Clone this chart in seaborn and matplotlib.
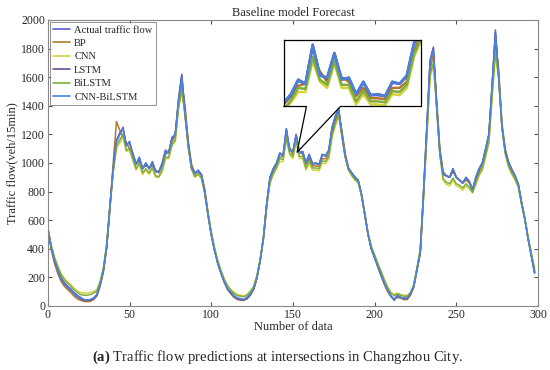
import numpy as np
import pandas as pd
import matplotlib
matplotlib.use("Agg")
import matplotlib.pyplot as plt
import seaborn as sns

# Werte (jeder zweite Datenpunkt)
x_idx = list(range(0, 300, 2))

actual = [545, 420, 330, 260, 200, 165, 140, 120, 95, 75,
          60, 45, 42, 45, 55, 80, 150, 250, 420, 700,
          960, 1150, 1200, 1250, 1120, 1150, 1060, 990, 1040, 960,
          1000, 960, 1010, 940, 940, 1000, 1090, 1070, 1180, 1200,
          1450, 1620, 1330, 1120, 960, 920, 950, 920, 800, 640,
          500, 390, 300, 230, 170, 120, 95, 70, 55, 50,
          45, 60, 85, 120, 200, 320, 480, 720, 900, 960,
          1000, 1070, 1050, 1240, 1090, 1080, 1200, 1070, 1080, 1000,
          1060, 995, 1000, 990, 1060, 1050, 1090, 1250, 1330, 1380,
          1200, 1050, 960, 930, 900, 880, 780, 640, 500, 400,
          340, 280, 220, 160, 110, 70, 40, 75, 60, 55,
          55, 90, 140, 260, 380, 800, 1250, 1720, 1810, 1400,
          1070, 920, 910, 900, 960, 900, 880, 860, 900, 870,
          810, 900, 960, 1000, 1100, 1200, 1550, 1930, 1600, 1250,
          1080, 1000, 950, 910, 850, 720, 610, 470, 350, 230]

bp = [540, 400, 300, 230, 175, 140, 115, 95, 70, 50,
      40, 32, 30, 32, 45, 70, 140, 240, 400, 680,
      1000, 1290, 1230, 1180, 1140, 1100, 1070, 1000, 1010, 970,
      980, 970, 980, 950, 930, 980, 1060, 1080, 1150, 1190,
      1400, 1560, 1400, 1150, 990, 930, 940, 920, 820, 660,
      520, 400, 310, 230, 165, 115, 85, 60, 45, 40,
      40, 50, 75, 115, 195, 320, 470, 700, 880, 950,
      990, 1040, 1050, 1180, 1110, 1060, 1160, 1080, 1060, 990,
      1030, 980, 980, 975, 1030, 1030, 1060, 1200, 1300, 1350,
      1230, 1070, 970, 930, 900, 870, 780, 650, 510, 410,
      340, 270, 210, 150, 100, 65, 45, 60, 55, 45,
      45, 75, 130, 250, 370, 760, 1200, 1650, 1760, 1450,
      1100, 940, 910, 900, 940, 900, 880, 860, 880, 860,
      810, 880, 940, 990, 1080, 1180, 1500, 1850, 1650, 1280,
      1100, 1010, 960, 910, 850, 730, 610, 480, 360, 240]

cnn = [540, 430, 345, 285, 230, 195, 170, 150, 125, 105,
       95, 90, 90, 95, 100, 115, 175, 270, 430, 690,
       930, 1100, 1140, 1180, 1080, 1090, 1020, 950, 990, 920,
       950, 920, 960, 900, 900, 940, 1030, 1030, 1120, 1150,
       1380, 1500, 1330, 1100, 950, 900, 920, 890, 790, 640,
       510, 410, 320, 250, 190, 145, 115, 95, 80, 75,
       70, 80, 105, 140, 215, 330, 480, 700, 860, 920,
       960, 1010, 1010, 1160, 1060, 1030, 1150, 1030, 1030, 950,
       1000, 950, 950, 945, 1000, 995, 1030, 1180, 1260, 1330,
       1180, 1040, 950, 910, 880, 860, 770, 640, 510, 420,
       360, 300, 245, 185, 135, 95, 80, 90, 80, 75,
       75, 95, 150, 270, 400, 760, 1180, 1600, 1680, 1400,
       1050, 880, 850, 840, 880, 840, 830, 810, 840, 820,
       790, 850, 910, 950, 1040, 1140, 1460, 1760, 1590, 1250,
       1060, 970, 920, 880, 830, 710, 610, 480, 370, 260]

lstm = [540, 410, 320, 250, 190, 155, 130, 110, 85, 65,
        50, 40, 38, 40, 50, 75, 145, 245, 410, 690,
        960, 1160, 1210, 1240, 1130, 1140, 1060, 990, 1030, 960,
        990, 960, 1000, 940, 940, 990, 1080, 1070, 1170, 1200,
        1430, 1610, 1350, 1130, 970, 930, 945, 915, 805, 645,
        505, 395, 300, 230, 170, 120, 90, 65, 50, 45,
        42, 55, 80, 118, 200, 320, 480, 715, 895, 955,
        995, 1065, 1050, 1230, 1095, 1075, 1195, 1075, 1075, 1000,
        1055, 995, 995, 990, 1055, 1050, 1085, 1240, 1320, 1375,
        1210, 1055, 960, 930, 900, 875, 780, 645, 505, 400,
        340, 280, 220, 160, 110, 70, 45, 70, 60, 50,
        50, 85, 135, 255, 375, 790, 1240, 1710, 1800, 1410,
        1075, 925, 910, 900, 955, 900, 880, 860, 895, 870,
        815, 895, 955, 1000, 1095, 1195, 1540, 1910, 1610, 1260,
        1085, 1000, 950, 910, 850, 720, 610, 470, 350, 235]

bilstm = [540, 425, 340, 275, 220, 185, 160, 140, 115, 95,
          80, 75, 75, 80, 90, 105, 165, 260, 425, 690,
          940, 1120, 1160, 1200, 1090, 1100, 1030, 960, 1000, 930,
          960, 930, 970, 910, 905, 950, 1040, 1040, 1130, 1160,
          1390, 1510, 1340, 1110, 960, 905, 925, 895, 795, 645,
          510, 405, 315, 245, 185, 140, 110, 88, 72, 68,
          65, 75, 100, 135, 210, 325, 475, 700, 865, 925,
          970, 1030, 1025, 1180, 1070, 1045, 1160, 1045, 1045, 965,
          1015, 965, 965, 960, 1015, 1010, 1045, 1195, 1270, 1340,
          1190, 1045, 955, 915, 885, 865, 775, 640, 505, 415,
          355, 295, 240, 180, 128, 90, 72, 85, 75, 68,
          68, 90, 145, 265, 395, 770, 1190, 1620, 1700, 1400,
          1060, 890, 865, 855, 895, 855, 845, 825, 855, 830,
          795, 860, 920, 960, 1055, 1150, 1480, 1780, 1600, 1255,
          1070, 980, 930, 890, 835, 715, 610, 480, 365, 255]

cnn_bilstm = [545, 415, 325, 255, 195, 160, 135, 115, 90, 70,
              55, 45, 42, 45, 55, 80, 150, 250, 420, 700,
              960, 1150, 1200, 1240, 1120, 1150, 1060, 990, 1040, 960,
              1000, 960, 1005, 940, 940, 995, 1085, 1070, 1175, 1200,
              1440, 1600, 1340, 1120, 965, 925, 950, 920, 800, 640,
              500, 390, 300, 230, 170, 120, 95, 70, 55, 50,
              45, 60, 85, 120, 200, 320, 480, 720, 900, 960,
              1000, 1070, 1050, 1235, 1090, 1080, 1195, 1070, 1080, 1000,
              1060, 995, 1000, 990, 1060, 1050, 1090, 1245, 1325, 1380,
              1200, 1050, 960, 930, 900, 880, 780, 640, 500, 400,
              340, 280, 220, 160, 110, 70, 45, 75, 60, 55,
              55, 90, 140, 260, 380, 800, 1250, 1710, 1790, 1400,
              1070, 920, 910, 900, 960, 900, 880, 860, 900, 870,
              810, 900, 960, 1000, 1100, 1200, 1550, 1900, 1600, 1250,
              1080, 1000, 950, 910, 850, 720, 610, 470, 350, 230]

series_names = ["Actual traffic flow", "BP", "CNN", "LSTM", "BiLSTM", "CNN-BiLSTM"]
farben = {
    "Actual traffic flow": "#5a5ccc",
    "BP": "#b07a2a",
    "CNN": "#d6d23a",
    "LSTM": "#6a4b9c",
    "BiLSTM": "#7fae3e",
    "CNN-BiLSTM": "#4a82dc",
}

wide = pd.DataFrame({"x": x_idx, "Actual traffic flow": actual, "BP": bp, "CNN": cnn,
                     "LSTM": lstm, "BiLSTM": bilstm, "CNN-BiLSTM": cnn_bilstm})
df = wide.melt(id_vars="x", var_name="model", value_name="flow")

sns.set_style("ticks")
plt.rcParams["font.family"] = ["Liberation Serif", "DejaVu Serif"]
plt.rcParams["mathtext.fontset"] = "custom"
plt.rcParams["mathtext.rm"] = "Liberation Serif"
plt.rcParams["mathtext.bf"] = "Liberation Serif:bold"

fig = plt.figure(figsize=(5.5, 3.7), dpi=100)
ax = fig.add_axes([0.087, 0.173, 0.891, 0.773])

sns.lineplot(data=df, x="x", y="flow", hue="model", hue_order=series_names,
             palette=farben, linewidth=1.1, ax=ax, estimator=None)

ax.set_xlim(0, 300)
ax.set_ylim(0, 2000)
ax.set_xticks(range(0, 301, 50))
ax.set_yticks(range(0, 2001, 200))
ax.tick_params(direction="in", top=True, right=True, labelsize=8.5,
               length=3, color="#555555", pad=2)
for sp in ax.spines.values():
    sp.set_color("#888888")
    sp.set_linewidth(0.8)
ax.set_xlabel("Number of data", fontsize=9, labelpad=0)
ax.set_ylabel("Traffic flow(veh/15min)", fontsize=9, labelpad=2)
ax.set_title("Baseline model Forecast", fontsize=9, pad=3)

leg = ax.legend(loc="upper left", fontsize=7.6, handlelength=1.6, borderpad=0.3,
                labelspacing=0.38, handletextpad=0.4, frameon=True, fancybox=False,
                borderaxespad=0.2)
leg.get_frame().set_edgecolor("#777777")
leg.get_frame().set_linewidth(0.7)
for line in leg.get_lines():
    line.set_linewidth(1.2)

# Ausschnitt (Lupe)
axins = ax.inset_axes([144.4, 1395, 84.2, 462], transform=ax.transData)
sns.lineplot(data=df, x="x", y="flow", hue="model", hue_order=series_names,
             palette=farben, linewidth=1.8, ax=axins, estimator=None, legend=False)
axins.set_xlim(138, 176)
axins.set_ylim(940, 1260)
axins.set_xticks([])
axins.set_yticks([])
axins.set_xlabel("")
axins.set_ylabel("")
axins.set_facecolor("white")
for sp in axins.spines.values():
    sp.set_color("black")
    sp.set_linewidth(0.9)
axins.spines["bottom"].set_visible(False)

tail_x = [144.4, 158.3, 152.6, 179.1, 228.6]
tail_y = [1395, 1395, 1075, 1395, 1395]
ax.plot(tail_x, tail_y, color="black", linewidth=0.9, zorder=7, clip_on=False)

fig.text(0.505, 0.035, r"$\mathbf{(a)}$ Traffic flow predictions at intersections in Changzhou City.",
         ha="center", va="center", fontsize=10.5)

plt.savefig("out.png", dpi=100)
plt.close()
